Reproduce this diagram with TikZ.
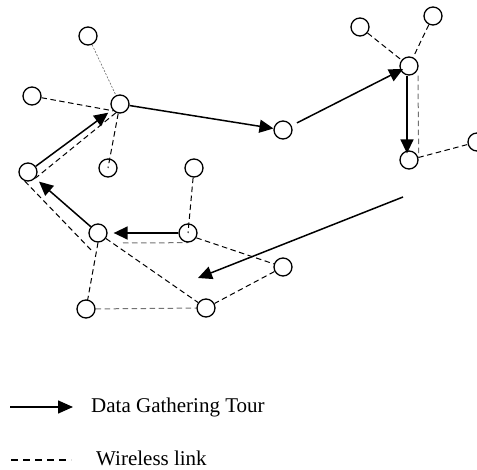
\documentclass[tikz,border=0pt]{standalone}
\usepackage{fontspec}
\setmainfont{Liberation Serif}
\usetikzlibrary{arrows.meta,calc,backgrounds}
\begin{document}
\begin{tikzpicture}[x=1pt,y=-1pt,
  sensor/.style={circle,draw=black,fill=white,line width=1.3pt,minimum size=18pt,inner sep=0pt},
  tour/.style={line width=1.5pt,-{Triangle[length=14pt,width=13pt]}},
  wlink/.style={line width=1pt,dash pattern=on 5.5pt off 3.5pt},
  glink/.style={wlink,draw=black!55},
  faint/.style={line width=0.6pt,draw=black!60,dash pattern=on 2pt off 1.5pt},
  lbl/.style={font=\fontsize{21}{25}\selectfont,anchor=base west,inner sep=0pt}]
\useasboundingbox (0,0) rectangle (477,470);

% sensor nodes
\node[sensor] (A) at (88,36) {};
\node[sensor] (B) at (32,96) {};
\node[sensor] (C) at (120,104) {};
\node[sensor] (D) at (108,168) {};
\node[sensor] (E) at (28,172) {};
\node[sensor] (F) at (194,168) {};
\node[sensor] (G) at (98,233) {};
\node[sensor] (H) at (188,233) {};
\node[sensor] (I) at (283,267) {};
\node[sensor] (J) at (86,309) {};
\node[sensor] (K) at (206,308) {};
\node[sensor] (L) at (283,130) {};
\node[sensor] (M) at (360,27) {};
\node[sensor] (N) at (433,16) {};
\node[sensor] (O) at (409,66) {};
\node[sensor] (P) at (409,160) {};
\node[sensor] (Q) at (477,142) {};

% wireless links
\begin{scope}[on background layer]
  \draw[faint] (A) -- (C);
  \draw[wlink] (B) -- (C.225);
  \draw[wlink] (C.245) -- (E.-40);
  \coordinate (ej) at (93,252);
  \draw[wlink] (E.-110) -- (ej);
  \draw[wlink] (G.south) -- (J.center);
  \draw[glink] (J) -- (K);
  \draw[wlink] (G) -- (K);
  \draw[wlink] (H.-30) -- (I);
  \draw[wlink] (I) -- (K);
  \draw[glink] ($(G)+(25,10)$) -- (H.south);
  \draw[wlink] (M) -- (O);
  \draw[wlink] (N) -- (O);
  \draw[glink] ($(O.south)+(9,0)$) -- ($(P.east)+(0,-3)$);
  \draw[wlink] (P) -- (Q);
\end{scope}
\draw[wlink] (C) -- (D.center);
\draw[wlink] (F) -- (H.center);

% data gathering tour
\draw[tour,shorten >=5pt] (E) -- (C);
\draw[tour] (C) -- (L);
\draw[tour,shorten <=6pt,shorten >=-3pt] (L) -- (O);
\draw[tour,shorten >=-3pt] ([xshift=-2pt]O.south) -- ([xshift=-2pt]P.north);
\coordinate (fs) at (403,197);
\coordinate (fe) at (198,278);
\draw[tour] (fs) -- (fe);
\draw[tour,shorten >=6pt] (H) -- (G);
\draw[tour,shorten >=5pt] (G) -- (E);

% legend
\coordinate (t1) at (10,407);
\coordinate (t2) at (73,407);
\draw[line width=1.5pt,-{Triangle[length=15pt,width=13pt]}] (t1) -- (t2);
\node[lbl] (tourlbl) at (91,413) {Data Gathering Tour};
\coordinate (w1) at (11,460);
\coordinate (w2) at (71,460);
\draw[line width=1.6pt,dash pattern=on 7pt off 5pt] (w1) -- (w2);
\node[lbl] (linklbl) at (96,465) {Wireless link};
\end{tikzpicture}
\end{document}
